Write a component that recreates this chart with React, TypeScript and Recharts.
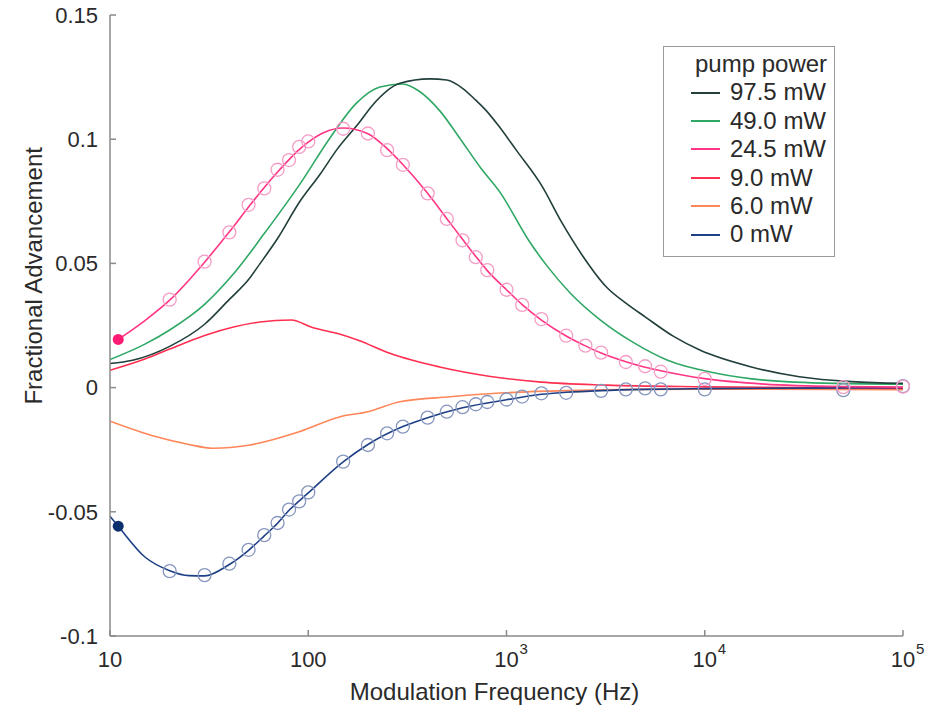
import { ComposedChart, Line, XAxis, YAxis, Label } from 'recharts';

// axis ticks
const freqTicks = [10, 100, 1000, 10000, 100000];
const freqTickBase = ['10', '100', '10', '10', '10'];
const freqTickExp = ['', '', '3', '4', '5'];
const advTicks = [-0.1, -0.05, 0, 0.05, 0.1, 0.15];

const legendTitle = 'pump power';
const seriesNames = ['97.5 mW', '49.0 mW', '24.5 mW', '9.0 mW', '6.0 mW', '0 mW'];

// 97.5 mW
const darkFreq = [10, 13, 20, 30, 40, 50, 57, 70, 90, 115, 140, 180, 210, 290, 410, 500, 600, 700, 780, 900, 1130, 1500, 1900, 2400, 3200, 4000, 5000, 7000, 9500, 17000, 30000, 55000, 100000];
const darkVals = [0.0097, 0.011, 0.0166, 0.0255, 0.0355, 0.0435, 0.0498, 0.06, 0.0745, 0.086, 0.096, 0.1065, 0.1135, 0.1225, 0.1243, 0.1238, 0.1205, 0.1157, 0.112, 0.106, 0.0952, 0.0815, 0.0665, 0.0535, 0.0404, 0.034, 0.0285, 0.0205, 0.015, 0.0084, 0.0044, 0.0024, 0.0017];

// 49.0 mW
const greenFreq = [10, 15, 20, 30, 42, 60, 90, 130, 175, 230, 300, 360, 460, 580, 740, 930, 1300, 1600, 2100, 3000, 4400, 6500, 11600, 20000, 45000, 100000];
const greenVals = [0.0113, 0.0175, 0.0232, 0.0335, 0.0458, 0.062, 0.0815, 0.101, 0.1145, 0.121, 0.1222, 0.1195, 0.1115, 0.1005, 0.0885, 0.0785, 0.059, 0.049, 0.038, 0.027, 0.018, 0.011, 0.0057, 0.003, 0.0017, 0.0014];

// 24.5 mW fit
const pinkFitFreq = [11, 15, 20, 30, 40, 50, 60, 70, 80, 90, 100, 120, 150, 200, 250, 300, 400, 500, 600, 700, 800, 1000, 1200, 1500, 2000, 2500, 3000, 4000, 5000, 6000, 10000, 20000, 50000, 100000];
const pinkFitVals = [0.0194, 0.027, 0.0352, 0.0505, 0.0627, 0.0727, 0.0806, 0.0868, 0.0918, 0.0958, 0.0988, 0.1027, 0.1045, 0.1022, 0.0962, 0.0898, 0.0782, 0.068, 0.0597, 0.0528, 0.0471, 0.0394, 0.0334, 0.0272, 0.0208, 0.0168, 0.0139, 0.0104, 0.0082, 0.0068, 0.0036, 0.0014, 0.0004, 0.0002];

// 24.5 mW measured
const pinkFreq = [20, 30, 40, 50, 60, 70, 80, 90, 100, 150, 200, 250, 300, 400, 500, 600, 700, 800, 1000, 1200, 1500, 2000, 2500, 3000, 4000, 5000, 6000, 10000, 50000, 100000];
const pinkVals = [0.0354, 0.0507, 0.0625, 0.0736, 0.0802, 0.0877, 0.0916, 0.0969, 0.0991, 0.1042, 0.1023, 0.0956, 0.0897, 0.0782, 0.0679, 0.0593, 0.0525, 0.0473, 0.0394, 0.0333, 0.0276, 0.0209, 0.0169, 0.0141, 0.0103, 0.0086, 0.0064, 0.0035, 0.0002, 0.0004];
const pinkStartFreq = [11];
const pinkStartVals = [0.0194];

// 9.0 mW
const redFreq = [10, 15, 20, 30, 42, 57, 82, 105, 145, 180, 260, 460, 830, 1500, 3200, 10000, 100000];
const redVals = [0.007, 0.0115, 0.0155, 0.021, 0.0244, 0.0264, 0.0272, 0.0242, 0.0215, 0.019, 0.0137, 0.0083, 0.0045, 0.0022, 0.001, 0.0003, -0.0003];

// 6.0 mW
const orangeFreq = [10, 17, 25, 33, 50, 90, 145, 200, 290, 520, 930, 2000, 10000, 100000];
const orangeVals = [-0.0135, -0.0197, -0.0229, -0.0244, -0.0232, -0.0178, -0.0117, -0.0097, -0.0057, -0.0037, -0.0022, -0.0012, -0.0006, -0.0008];

// 0 mW fit
const navyFitFreq = [10, 11, 15, 20, 25, 30, 40, 50, 60, 70, 80, 100, 150, 200, 300, 400, 600, 1000, 1500, 2000, 3000, 5000, 10000, 30000, 100000];
const navyFitVals = [-0.0518, -0.0558, -0.0682, -0.0737, -0.0757, -0.0758, -0.0712, -0.0655, -0.0597, -0.0546, -0.0494, -0.0424, -0.0299, -0.0229, -0.0157, -0.0121, -0.0081, -0.0049, -0.0027, -0.0019, -0.0012, -0.0007, -0.0004, -0.0002, 0.0];

// 0 mW measured
const navyFreq = [20, 30, 40, 50, 60, 70, 80, 90, 100, 150, 200, 250, 300, 400, 500, 600, 700, 800, 1000, 1200, 1500, 2000, 3000, 4000, 5000, 6000, 10000, 50000, 100000];
const navyVals = [-0.0739, -0.0755, -0.0709, -0.0653, -0.0594, -0.0545, -0.0491, -0.0458, -0.0422, -0.0298, -0.0231, -0.0184, -0.0157, -0.0121, -0.0097, -0.0079, -0.0067, -0.0058, -0.0048, -0.0036, -0.0023, -0.0021, -0.0013, -0.0007, -0.0003, -0.0007, -0.0007, -0.001, 0.0006];
const navyStartFreq = [11];
const navyStartVals = [-0.0558];

const toPoints = (fs: number[], vs: number[]) => fs.map((f, i) => ({ f, v: vs[i] }));

const FONT = '"Liberation Sans", Arial, Helvetica, sans-serif';
const TEXT = '#2a2a2a';
const AXIS = '#8a8a8a';
const colors = {
  dark: '#213f3b',
  green: '#2fa865',
  pink: '#ff3585',
  pinkCircle: '#f59cc6',
  red: '#ff2f50',
  orange: '#ff8659',
  navy: '#1d3f85',
  navyCircle: '#8696bd',
  navyDot: '#0c2f6e',
  pinkDot: '#ff1a74',
};
const legendColors = [colors.dark, colors.green, colors.pink, colors.red, colors.orange, colors.navy];

function FreqTick(props: any) {
  const { x, y, payload } = props;
  const i = freqTicks.indexOf(payload.value);
  const exp = freqTickExp[i];
  return (
    <g>
      <text x={x} y={y} dy="0.71em" textAnchor="middle" fill={TEXT} fontSize={22} fontFamily={FONT}>
        {freqTickBase[i]}
      </text>
      {exp && (
        <text x={x + 13} y={y} dy="0.2em" textAnchor="start" fill={TEXT} fontSize={15} fontFamily={FONT}>
          {exp}
        </text>
      )}
    </g>
  );
}

const noTick = () => <g />;

function YTitle(props: any) {
  const { x, y, height } = props.viewBox;
  const cx = x + 26;
  const cy = y + height * 0.42;
  return (
    <text x={cx} y={cy} transform={`rotate(-90 ${cx} ${cy})`} textAnchor="middle" dominantBaseline="central" fill={TEXT} fontSize={24} fontFamily={FONT}>
      Fractional Advancement
    </text>
  );
}

function XTitle(props: any) {
  const { x, y, width } = props.viewBox;
  return (
    <text x={x + width / 2 - 12} y={y + 64} textAnchor="middle" fill={TEXT} fontSize={24} fontFamily={FONT}>
      Modulation Frequency (Hz)
    </text>
  );
}

function PumpLegend() {
  return (
    <div
      style={{
        position: 'absolute',
        left: 655,
        top: 38,
        width: 172,
        height: 211,
        boxSizing: 'border-box',
        border: '1.5px solid #9a9a9a',
        background: '#fff',
        paddingTop: 3,
        fontFamily: FONT,
        fontSize: 24,
        color: TEXT,
      }}
    >
      <div style={{ height: 28.4, lineHeight: '28.4px', paddingLeft: 31 }}>{legendTitle}</div>
      {seriesNames.map((name, i) => (
        <div key={name} style={{ height: 28.4, display: 'flex', alignItems: 'center' }}>
          <div style={{ marginLeft: 27, width: 29, height: 2, background: legendColors[i] }} />
          <div style={{ marginLeft: 10, lineHeight: '28.4px' }}>{name}</div>
        </div>
      ))}
    </div>
  );
}

export default function App() {
  const line = { dataKey: 'v', type: 'monotone' as const, strokeWidth: 1.6, dot: false, activeDot: false, isAnimationActive: false };
  return (
    <div style={{ position: 'relative', width: 920, height: 700 }}>
      <ComposedChart width={920} height={700} margin={{ top: 7, right: 25, bottom: 0, left: 0 }}>
        <XAxis
          dataKey="f"
          type="number"
          scale="log"
          domain={[10, 100000]}
          ticks={freqTicks}
          interval={0}
          allowDataOverflow
          height={72}
          tickSize={-6}
          tickMargin={21}
          stroke={AXIS}
          strokeWidth={1.5}
          tick={(p: any) => <FreqTick {...p} />}
        >
          <Label content={XTitle} />
        </XAxis>
        <XAxis
          xAxisId="top"
          orientation="top"
          dataKey="f"
          type="number"
          scale="log"
          domain={[10, 100000]}
          ticks={freqTicks}
          interval={0}
          allowDataOverflow
          height={0}
          tickSize={-6}
          stroke={AXIS}
          strokeWidth={1.5}
          tick={noTick}
        />
        <YAxis
          type="number"
          domain={[-0.1, 0.15]}
          ticks={advTicks}
          interval={0}
          allowDataOverflow
          width={102}
          tickSize={-6}
          tickMargin={18}
          stroke={AXIS}
          strokeWidth={1.5}
          tick={{ fill: TEXT, fontSize: 22, fontFamily: FONT }}
        >
          <Label content={YTitle} />
        </YAxis>
        <YAxis
          yAxisId="right"
          orientation="right"
          type="number"
          domain={[-0.1, 0.15]}
          ticks={advTicks}
          interval={0}
          allowDataOverflow
          width={0}
          tickSize={-6}
          stroke={AXIS}
          strokeWidth={1.5}
          tick={noTick}
        />

        <Line {...line} data={toPoints(orangeFreq, orangeVals)} stroke={colors.orange} />
        <Line {...line} data={toPoints(redFreq, redVals)} stroke={colors.red} />
        <Line {...line} data={toPoints(greenFreq, greenVals)} stroke={colors.green} />
        <Line {...line} data={toPoints(darkFreq, darkVals)} stroke={colors.dark} />
        <Line {...line} data={toPoints(navyFitFreq, navyFitVals)} stroke={colors.navy} />
        <Line {...line} data={toPoints(pinkFitFreq, pinkFitVals)} stroke={colors.pink} />

        <Line
          {...line}
          data={toPoints(navyFreq, navyVals)}
          stroke="none"
          dot={{ r: 6.5, fill: 'none', stroke: colors.navyCircle, strokeWidth: 1.3, clipDot: false }}
        />
        <Line
          {...line}
          data={toPoints(pinkFreq, pinkVals)}
          stroke="none"
          dot={{ r: 6.5, fill: 'none', stroke: colors.pinkCircle, strokeWidth: 1.3, clipDot: false }}
        />
        <Line
          {...line}
          data={toPoints(navyStartFreq, navyStartVals)}
          stroke="none"
          dot={{ r: 5.5, fill: colors.navyDot, stroke: 'none', clipDot: false }}
        />
        <Line
          {...line}
          data={toPoints(pinkStartFreq, pinkStartVals)}
          stroke="none"
          dot={{ r: 5.5, fill: colors.pinkDot, stroke: 'none', clipDot: false }}
        />
      </ComposedChart>
      <PumpLegend />
    </div>
  );
}
